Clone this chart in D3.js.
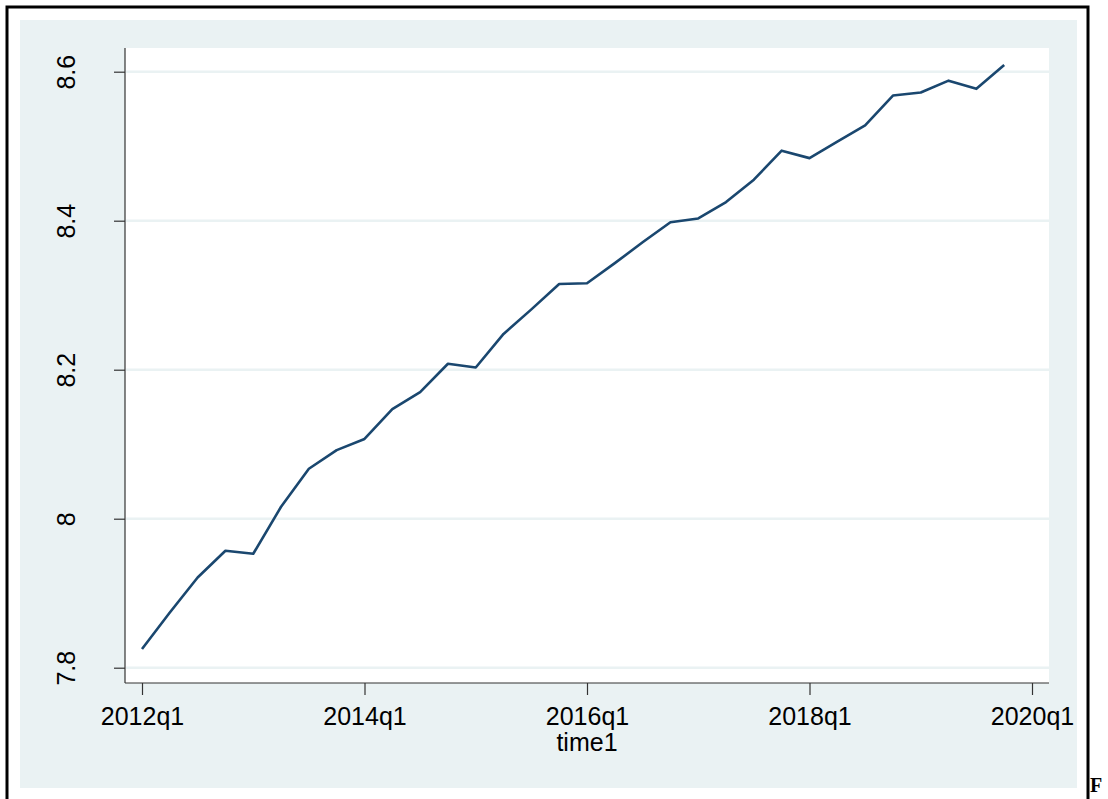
<!DOCTYPE html>
<html>
<head>
<meta charset="utf-8">
<script src="https://cdn.jsdelivr.net/npm/d3@7"></script>
<style>
  html, body { margin: 0; padding: 0; background: #fff; overflow: hidden; }
  svg { display: block; }
</style>
</head>
<body>
<svg id="chart" width="1108" height="799"></svg>
<script>
// quarterly series, 2012q1 .. 2019q4
const startYear = 2012;
const values = [
  7.825, 7.874, 7.921, 7.957,
  7.953, 8.016, 8.067, 8.092,
  8.107, 8.147, 8.170, 8.208,
  8.203, 8.248, 8.281, 8.315,
  8.316, 8.343, 8.371, 8.398,
  8.403, 8.425, 8.455, 8.494,
  8.484, 8.506, 8.528, 8.568,
  8.572, 8.588, 8.577, 8.609
];
const yTicks = [7.8, 8, 8.2, 8.4, 8.6];
const xTicks = [0, 8, 16, 24, 32]; // quarter index from 2012q1
const xTitle = 'time1';

const qLabel = i => `${startYear + Math.floor(i / 4)}q${(i % 4) + 1}`;

const svg = d3.select('#chart');
const font = "'Liberation Sans', Arial, Helvetica, sans-serif";

// outer frame + stata-like background
svg.append('rect')
  .attr('x', 7).attr('y', 7).attr('width', 1081).attr('height', 820)
  .attr('fill', '#fff').attr('stroke', '#000').attr('stroke-width', 3);
svg.append('rect')
  .attr('x', 20).attr('y', 20).attr('width', 1057).attr('height', 768)
  .attr('fill', '#EAF2F3');

// plot region
const plot = { left: 125, right: 1049, top: 48, bottom: 683 };
svg.append('rect')
  .attr('x', plot.left).attr('y', plot.top)
  .attr('width', plot.right - plot.left).attr('height', plot.bottom - plot.top)
  .attr('fill', '#fff');

const x = d3.scaleLinear().domain([0, 32]).range([142, 1032]);
const y = d3.scaleLinear().domain([7.8, 8.6]).range([667.7, 71.7]);

// gridlines
svg.append('g')
  .selectAll('line')
  .data(yTicks)
  .join('line')
  .attr('x1', plot.left + 1).attr('x2', plot.right)
  .attr('y1', d => y(d)).attr('y2', d => y(d))
  .attr('stroke', '#EAF2F3').attr('stroke-width', 2.5);

// y axis
const yAxis = svg.append('g')
  .attr('transform', `translate(${plot.left},0)`)
  .call(d3.axisLeft(y).tickValues(yTicks).tickSize(11).tickPadding(0).tickFormat(d3.format('')));
yAxis.select('.domain').attr('d', `M0,${plot.top}V${plot.bottom}`).attr('stroke', '#333').attr('stroke-width', 1.2);
yAxis.selectAll('.tick line').attr('stroke', '#333').attr('stroke-width', 1.2);
yAxis.selectAll('.tick text').remove();
yAxis.selectAll('.tick')
  .append('text')
  .attr('transform', 'translate(-50,0) rotate(-90)')
  .attr('text-anchor', 'middle')
  .attr('fill', '#000')
  .attr('font-family', font)
  .attr('font-size', 25)
  .text(d => d3.format('')(d));

// x axis
const xAxis = svg.append('g')
  .attr('transform', `translate(0,${plot.bottom})`)
  .call(d3.axisBottom(x).tickValues(xTicks).tickSize(12).tickPadding(0).tickFormat(qLabel));
xAxis.select('.domain').attr('d', `M${plot.left},0H${plot.right}`).attr('stroke', '#333').attr('stroke-width', 1.2);
xAxis.selectAll('.tick line').attr('stroke', '#333').attr('stroke-width', 1.2);
xAxis.selectAll('.tick text')
  .attr('y', 42).attr('dy', null)
  .attr('fill', '#000')
  .attr('font-family', font)
  .attr('font-size', 25);

svg.append('text')
  .attr('x', (plot.left + plot.right) / 2)
  .attr('y', 751)
  .attr('text-anchor', 'middle')
  .attr('font-family', font)
  .attr('font-size', 25)
  .text(xTitle);

// series line
svg.append('path')
  .datum(values)
  .attr('fill', 'none')
  .attr('stroke', '#1A476F')
  .attr('stroke-width', 2.6)
  .attr('stroke-linejoin', 'round')
  .attr('d', d3.line().x((d, i) => x(i)).y(d => y(d)));

// caption letter at the bottom right
svg.append('text')
  .attr('x', 1090).attr('y', 792)
  .attr('font-family', "'Liberation Serif', 'Times New Roman', serif")
  .attr('font-weight', 'bold')
  .attr('font-size', 20)
  .text('F');
</script>
</body>
</html>
